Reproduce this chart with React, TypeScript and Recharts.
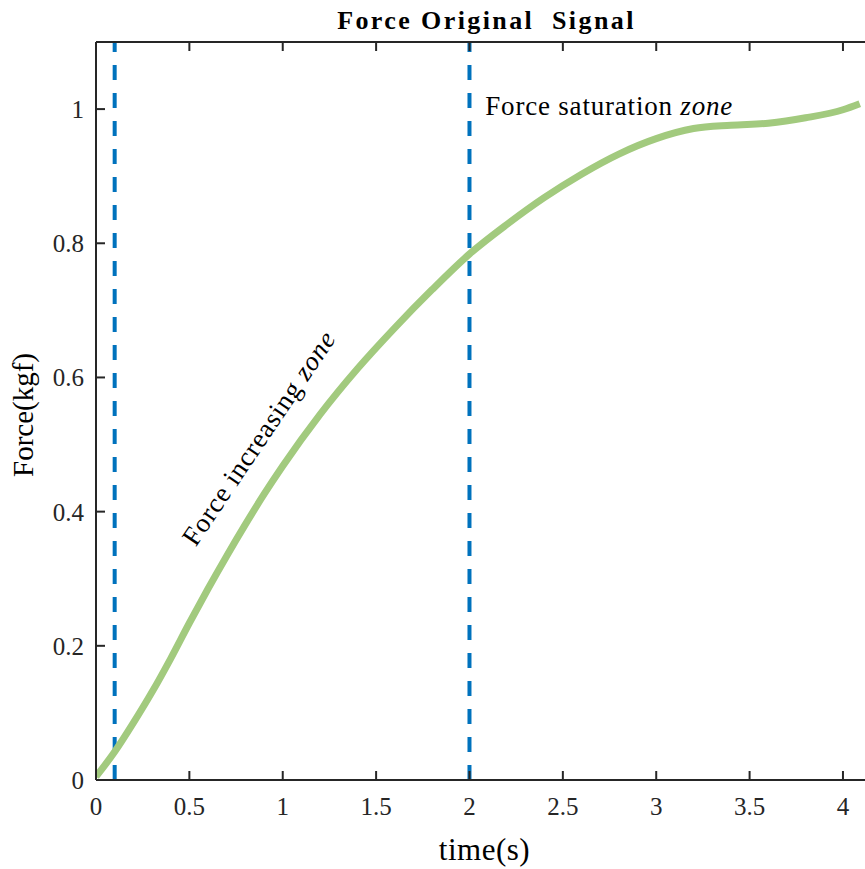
import React from 'react';
import { LineChart, Line, XAxis, YAxis, ReferenceLine, ReferenceDot, Label } from 'recharts';

const timeS = [0, 0.1, 0.2, 0.3, 0.4, 0.5, 0.6, 0.7, 0.8, 0.9, 1.0, 1.2, 1.4, 1.6, 1.8, 2.0, 2.2, 2.4, 2.6, 2.8, 3.0, 3.2, 3.4, 3.6, 3.8, 4.0, 4.09];
const forceKgf = [0.005, 0.042, 0.085, 0.131, 0.181, 0.234, 0.285, 0.334, 0.381, 0.426, 0.468, 0.545, 0.613, 0.674, 0.731, 0.784, 0.828, 0.868, 0.903, 0.933, 0.956, 0.971, 0.976, 0.979, 0.987, 0.999, 1.008];
const xTicks = [0, 0.5, 1, 1.5, 2, 2.5, 3, 3.5, 4];
const yTicks = [0, 0.2, 0.4, 0.6, 0.8, 1];
const zoneBoundaries = [0.1, 2];
const xDomain = [0, 4.118];
const yDomain = [0, 1.1];
const titleText = 'Force Original  Signal';
const xLabel = 'time(s)';
const yLabel = 'Force(kgf)';
const saturationAnchor = { x: 2.09, y: 0.99 };
const increasingAnchor = { x: 0.54, y: 0.345 };

const data = timeS.map((t, i) => ({ t, f: forceKgf[i] }));

const FONT = '"Liberation Serif", "Times New Roman", serif';
const AXIS = '#262626';

const fmt = (v: number) => String(v);

export default function App() {
  return (
    <div style={{ position: 'absolute', left: 0, top: 0, width: 865, height: 869, background: '#fff' }}>
      <LineChart width={865} height={869} data={data} margin={{ top: 41, right: 0, left: 95, bottom: 88 }}>
        <XAxis
          dataKey="t"
          type="number"
          domain={xDomain}
          ticks={xTicks}
          allowDataOverflow
          height={1}
          tickSize={-9}
          tickMargin={26}
          tickFormatter={fmt}
          axisLine={{ stroke: AXIS, strokeWidth: 2 }}
          tickLine={{ stroke: AXIS, strokeWidth: 2 }}
          tick={{ fill: AXIS, fontFamily: FONT, fontSize: 25 }}
        >
          <Label
            content={({ viewBox }: any) => (
              <text x={viewBox.x + viewBox.width / 2 + 4} y={viewBox.y + 80} textAnchor="middle" fontFamily={FONT} fontSize={31} letterSpacing={0.5} fill="#000">
                {xLabel}
              </text>
            )}
          />
        </XAxis>
        <XAxis
          xAxisId="top"
          dataKey="t"
          type="number"
          orientation="top"
          domain={xDomain}
          ticks={xTicks}
          allowDataOverflow
          height={1}
          tickSize={-9}
          tickFormatter={() => ''}
          axisLine={{ stroke: AXIS, strokeWidth: 2 }}
          tickLine={{ stroke: AXIS, strokeWidth: 2 }}
        >
          <Label
            content={({ viewBox }: any) => (
              <text x={(viewBox.x + viewBox.width / 2) + 6} y={viewBox.y - 12} textAnchor="middle" fontFamily={FONT} fontWeight="bold" fontSize={26} letterSpacing={2.4} fill="#000" style={{ whiteSpace: 'pre' }}>
                {titleText}
              </text>
            )}
          />
        </XAxis>
        <YAxis
          type="number"
          domain={yDomain}
          ticks={yTicks}
          allowDataOverflow
          width={1}
          tickSize={-9}
          tickMargin={21}
          tickFormatter={fmt}
          axisLine={{ stroke: AXIS, strokeWidth: 2 }}
          tickLine={{ stroke: AXIS, strokeWidth: 2 }}
          tick={{ fill: AXIS, fontFamily: FONT, fontSize: 25 }}
        >
          <Label
            content={({ viewBox }: any) => {
              const cx = viewBox.x - 62;
              const cy = viewBox.y + viewBox.height / 2 + 4;
              return (
                <text x={cx} y={cy} transform={`rotate(-90 ${cx} ${cy})`} textAnchor="middle" fontFamily={FONT} fontSize={29} fill="#000">
                  {yLabel}
                </text>
              );
            }}
          />
        </YAxis>
        {zoneBoundaries.map((b) => (
          <ReferenceLine
            key={b}
            segment={[{ x: b, y: yDomain[0] }, { x: b, y: yDomain[1] }]}
            stroke="#0072BD"
            strokeWidth={4}
            strokeDasharray="15 13"
            ifOverflow="visible"
          />
        ))}
        <Line
          type="monotone"
          dataKey="f"
          stroke="#a2ca7e"
          strokeWidth={7}
          dot={false}
          isAnimationActive={false}
        />
        <ReferenceDot
          x={saturationAnchor.x}
          y={saturationAnchor.y}
          r={1}
          fill="none"
          stroke="none"
          label={{
            content: ({ viewBox }: any) => (
              <text x={viewBox.x} y={viewBox.y} fontFamily={FONT} fontSize={27} letterSpacing={0.8} fill="#000">
                Force saturation <tspan fontStyle="italic">zone</tspan>
              </text>
            ),
          }}
        />
        <ReferenceDot
          x={increasingAnchor.x}
          y={increasingAnchor.y}
          r={1}
          fill="none"
          stroke="none"
          label={{
            content: ({ viewBox }: any) => (
              <text x={viewBox.x} y={viewBox.y} transform={`rotate(-56 ${viewBox.x} ${viewBox.y})`} fontFamily={FONT} fontSize={27} letterSpacing={0.8} fill="#000">
                Force increasing <tspan fontStyle="italic">zone</tspan>
              </text>
            ),
          }}
        />
      </LineChart>
    </div>
  );
}
